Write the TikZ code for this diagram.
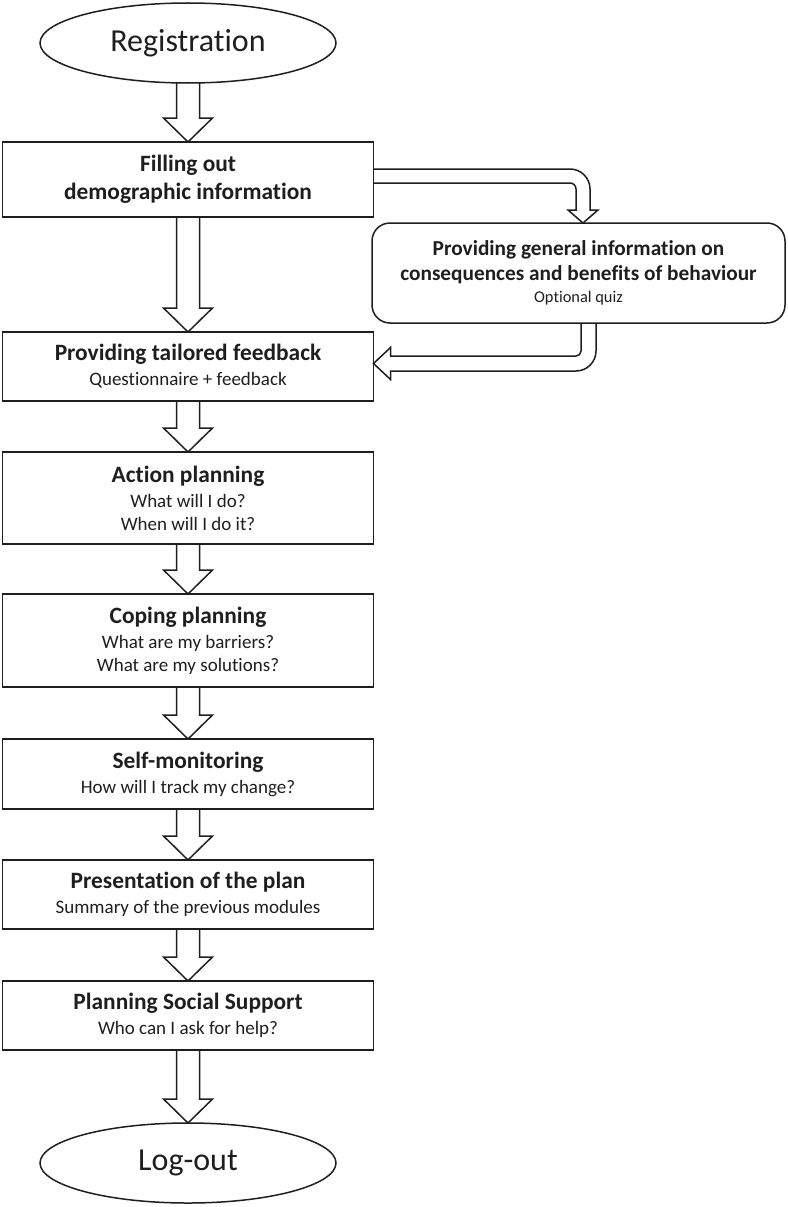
\documentclass[tikz,border=0pt]{standalone}
\usepackage{fontspec}
\setmainfont{Carlito}[Ligatures=NoCommon]
\usepackage{tikz}
\usetikzlibrary{shapes.geometric,positioning,calc}
\definecolor{ink}{RGB}{30,30,30}
\newcommand{\titfnt}{\fontsize{23.4}{28}\selectfont\bfseries}
\newcommand{\subfnt}{\fontsize{19}{23}\selectfont}
% hollow block arrow from the bottom of #1 to the top of #2
\newcommand{\blockdown}[2]{%
  \draw[hollow] ($(#1.south)+(-11.5pt,0)$) -- ($(#2.north)+(-11.5pt,24pt)$)
    -- ($(#2.north)+(-24.5pt,24pt)$) -- (#2.north)
    -- ($(#2.north)+(24.5pt,24pt)$) -- ($(#2.north)+(11.5pt,24pt)$)
    -- ($(#1.south)+(11.5pt,0)$);}

\begin{document}
\begin{tikzpicture}[
    x=1pt, y=-1pt,
    node distance=51pt,
    stepbox/.style={draw=ink, line width=1.5pt, rectangle, minimum width=371pt, align=center, inner sep=4pt, outer sep=0pt, text=ink, font=\subfnt},
    endpoint/.style={draw=ink, line width=1.5pt, ellipse, minimum width=296pt, minimum height=80pt, outer sep=0pt, text=ink, font=\fontsize{32}{38}\selectfont},
    infobox/.style={stepbox, rounded corners=18pt, minimum width=413pt, minimum height=100pt, font=\fontsize{21.3}{25}\selectfont\bfseries},
    hollow/.style={draw=ink, line width=1.5pt, line join=miter}
]
    \useasboundingbox (0,0) rectangle (787,1207);

    % Steps
    \node[endpoint] (reg) at (188,43) {Registration};
    \node[stepbox, font=\titfnt, minimum height=75pt, below=59pt of reg] (fill) {Filling out\\demographic information};
    \node[stepbox, minimum height=69pt, below=115pt of fill] (prov) {\titfnt Providing tailored feedback\\[2pt] Questionnaire + feedback};
    \node[stepbox, minimum height=92pt, below=of prov] (act) {\titfnt Action planning\\[2pt] What will I do?\\ When will I do it?};
    \node[stepbox, minimum height=93pt, below=50pt of act] (cope) {\titfnt Coping planning\\[2pt] What are my barriers?\\ What are my solutions?};
    \node[stepbox, minimum height=70pt, below=52pt of cope] (self) {\titfnt Self-monitoring\\[2pt] How will I track my change?};
    \node[stepbox, minimum height=69pt, below=of self] (pres) {\titfnt Presentation of the plan\\[2pt] Summary of the previous modules};
    \node[stepbox, minimum height=69pt, below=52pt of pres] (plan) {\titfnt Planning Social Support\\[2pt] Who can I ask for help?};
    \node[endpoint, below=73pt of plan] (out) {Log-out};

    % Side module
    \node[infobox] (info) at (578.5,273) {Providing general information on\\consequences and benefits of behaviour\\[-3pt] \fontsize{16.4}{20}\selectfont\mdseries Optional quiz};

    % Arrows
    \blockdown{reg}{fill}
    \blockdown{fill}{prov}
    \blockdown{prov}{act}
    \blockdown{act}{cope}
    \blockdown{cope}{self}
    \blockdown{self}{pres}
    \blockdown{pres}{plan}
    \blockdown{plan}{out}

    % Detour through the side module
    \draw[hollow] let \p1=($(fill.east)+(0,3.5pt)$), \p2=($(info.north)+(4.5pt,0)$) in
        (\x1,\y1+7pt) -- (\x2-13pt,\y1+7pt) arc[start angle=90, end angle=0, radius=20pt]
        -- (\x2+7pt,\y2+13pt) -- (\x2+15pt,\y2+13pt) -- (\p2) -- (\x2-15pt,\y2+13pt)
        -- (\x2-7pt,\y2+13pt) -- (\x2-7pt,\y1-13pt) arc[start angle=0, end angle=90, radius=6pt]
        -- (\x1,\y1-7pt);
    \draw[hollow] let \p1=($(info.south)+(10pt,0)$), \p2=($(prov.east)+(0,3pt)$) in
        (\x1-7.5pt,\y1) -- (\x1-7.5pt,\y2+12.5pt) arc[start angle=0, end angle=-90, radius=5pt]
        -- (\x2+17pt,\y2+7.5pt) -- (\x2+17pt,\y2+16pt) -- (\p2) -- (\x2+17pt,\y2-16pt)
        -- (\x2+17pt,\y2-7.5pt) -- (\x1-12.5pt,\y2-7.5pt) arc[start angle=-90, end angle=0, radius=20pt]
        -- (\x1+7.5pt,\y1);
\end{tikzpicture}
\end{document}
